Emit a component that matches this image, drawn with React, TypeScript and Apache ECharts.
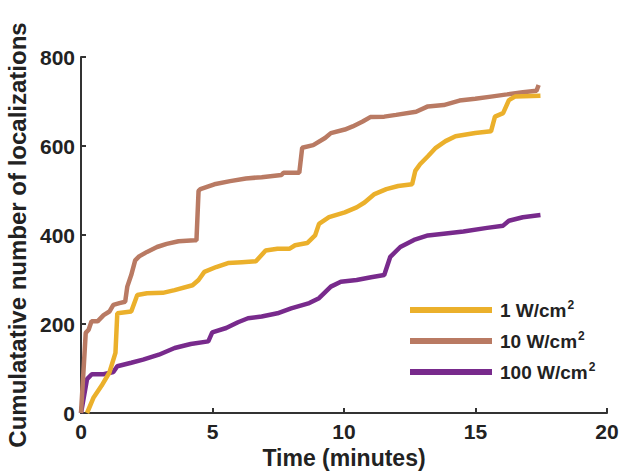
import React, { useEffect, useRef } from "react";
import * as echarts from "echarts";

const seriesNames = ["1 W/cm2", "10 W/cm2", "100 W/cm2"];
const seriesLabels = ["1 W/cm", "10 W/cm", "100 W/cm"];
const colors = ["#EBB02B", "#B97A63", "#782A8C"];

const t1 = [0.23, 0.48, 0.78, 1.08, 1.31, 1.38, 1.91, 2.14, 2.51, 3.11, 3.56, 4.24, 4.47, 4.69, 5.14, 5.59, 6.12, 6.65, 7.02, 7.47, 7.92, 8.14, 8.6, 8.9, 9.05, 9.43, 10.03, 10.48, 10.78, 11.16, 11.61, 12.06, 12.59, 12.71, 12.89, 13.19, 13.49, 13.86, 14.24, 14.99, 15.59, 15.74, 16.05, 16.27, 16.5, 17.47];
const v1 = [0, 35, 61, 91, 135, 224, 228, 265, 269, 270, 276, 287, 299, 317, 328, 337, 339, 341, 365, 369, 369, 377, 382, 399, 425, 440, 451, 462, 473, 492, 503, 510, 514, 544, 559, 577, 596, 611, 622, 629, 633, 666, 674, 703, 711, 713];

const t10 = [0, 0.18, 0.29, 0.4, 0.63, 0.86, 1.08, 1.23, 1.46, 1.68, 1.76, 1.91, 2.06, 2.21, 2.51, 2.89, 3.26, 3.71, 4.32, 4.39, 4.47, 4.54, 5.07, 5.67, 6.27, 6.87, 7.62, 7.7, 8.3, 8.41, 8.83, 9.28, 9.5, 10.03, 10.33, 10.71, 11.0, 11.53, 11.98, 12.74, 13.19, 13.79, 14.39, 14.99, 15.59, 16.2, 16.8, 17.32, 17.4];
const v10 = [0, 180, 187, 206, 206, 220, 228, 243, 247, 250, 284, 310, 343, 352, 362, 373, 380, 386, 388, 388, 499, 503, 514, 521, 527, 530, 535, 540, 540, 596, 602, 618, 629, 637, 644, 655, 665, 666, 670, 677, 689, 692, 702, 706, 711, 716, 721, 724, 737];

const t100 = [0, 0.23, 0.41, 0.86, 1.23, 1.38, 1.91, 2.36, 2.96, 3.56, 4.17, 4.84, 4.99, 5.52, 5.97, 6.35, 6.87, 7.47, 7.99, 8.68, 9.05, 9.5, 9.88, 10.48, 11.03, 11.53, 11.76, 12.14, 12.66, 13.19, 13.79, 14.54, 15.44, 16.05, 16.27, 16.8, 17.47];
const v100 = [0, 76, 87, 87, 92, 105, 113, 120, 131, 146, 155, 161, 181, 191, 204, 213, 217, 224, 235, 247, 258, 284, 295, 299, 305, 310, 351, 373, 389, 399, 403, 408, 416, 421, 432, 440, 445];

const xTicks = [0, 5, 10, 15, 20];
const yTicks = [0, 200, 400, 600, 800];

const zip = (a: number[], b: number[]) => a.map((x, i) => [x, b[i]]);

export default function App() {
  const ref = useRef<HTMLDivElement>(null);
  useEffect(() => {
    if (!ref.current) return;
    const chart = echarts.init(ref.current, undefined, { renderer: "svg" });
    const font = "Liberation Sans, Arial, sans-serif";
    const dataSets = [zip(t1, v1), zip(t10, v10), zip(t100, v100)];
    chart.setOption({
      animation: false,
      backgroundColor: "#ffffff",
      grid: { left: 81, right: 13, top: 57, bottom: 60, containLabel: false, outerBoundsMode: "none" },
      xAxis: {
        type: "value",
        min: xTicks[0],
        max: xTicks[xTicks.length - 1],
        interval: 5,
        name: "Time (minutes)",
        nameLocation: "middle",
        nameGap: 33,
        nameTextStyle: { fontFamily: font, fontWeight: "bold", fontSize: 23, color: "#222" },
        axisLine: { lineStyle: { color: "#333", width: 2 } },
        axisTick: { inside: true, length: 5, lineStyle: { color: "#333", width: 2 } },
        axisLabel: { fontFamily: font, fontWeight: "bold", fontSize: 21, color: "#222", margin: 8 },
        splitLine: { show: false },
      },
      yAxis: {
        type: "value",
        min: yTicks[0],
        max: yTicks[yTicks.length - 1],
        interval: 200,
        name: "Cumulatative number of localizations",
        nameLocation: "middle",
        nameGap: 47,
        nameTextStyle: { fontFamily: font, fontWeight: "bold", fontSize: 24, color: "#222" },
        axisLine: { show: true, lineStyle: { color: "#333", width: 2 } },
        axisTick: { show: true, inside: true, length: 5, lineStyle: { color: "#333", width: 2 } },
        axisLabel: { fontFamily: font, fontWeight: "bold", fontSize: 21, color: "#222", margin: 6 },
        splitLine: { show: false },
      },
      legend: {
        orient: "vertical",
        left: 405,
        top: 294,
        itemWidth: 82,
        itemHeight: 6,
        itemGap: 10.5,
        icon: "rect",
        data: seriesNames,
        formatter: (name: string) => {
          const i = seriesNames.indexOf(name);
          return `{a|${seriesLabels[i]}}{s|2}`;
        },
        textStyle: {
          rich: {
            a: { fontFamily: font, fontWeight: "bold", fontSize: 19, color: "#222", lineHeight: 22, padding: [0, 0, 0, 3] },
            s: { fontFamily: font, fontWeight: "bold", fontSize: 12, color: "#222", lineHeight: 12, verticalAlign: "top", padding: [0, 0, 0, 1] },
          },
        },
      },
      series: seriesNames.map((n, i) => ({
        name: n,
        type: "line",
        data: dataSets[i],
        showSymbol: false,
        symbol: "none",
        lineStyle: { color: colors[i], width: 4.5 },
        itemStyle: { color: colors[i] },
        z: 3 - i,
      })),
    });
    return () => chart.dispose();
  }, []);
  return <div ref={ref} style={{ position: "absolute", left: 0, top: 0, width: 620, height: 473 }} />;
}
